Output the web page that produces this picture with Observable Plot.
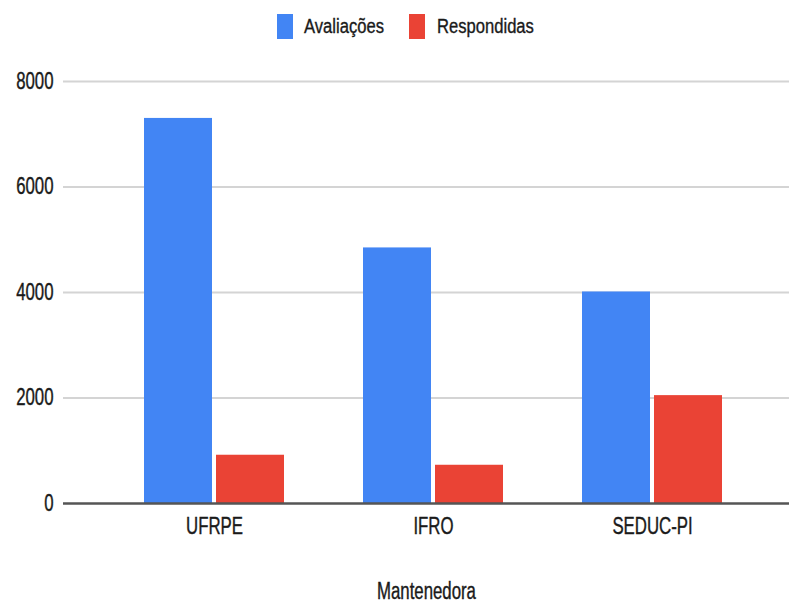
<!DOCTYPE html>
<html>
<head>
<meta charset="utf-8">
<script src="https://cdn.jsdelivr.net/npm/d3@7"></script>
<script src="https://cdn.jsdelivr.net/npm/@observablehq/plot@0.6"></script>
<style>
  html, body { margin: 0; padding: 0; background: #fff; }
  #legend { position: relative; width: 789px; height: 50px; font-family: "Liberation Sans", Arial, sans-serif; }
  #legend .sw { position: absolute; top: 14px; width: 16px; height: 25px; }
  #legend .lb { position: absolute; top: 14px; height: 25px; line-height: 25px; font-size: 20px; color: #1a1a1a;
                -webkit-text-stroke: 0.35px #1a1a1a;
                transform: scaleX(0.83); transform-origin: left center; white-space: nowrap; }
  #chart svg text { stroke: #1a1a1a; stroke-width: 0.4px; }
</style>
</head>
<body>
<div id="legend"></div>
<div id="chart"></div>
<script>
const categories = ["UFRPE", "IFRO", "SEDUC-PI"];
const seriesNames = ["Avaliações", "Respondidas"];
const avaliacoes = [7300, 4845, 4010];
const respondidas = [915, 725, 2045];
const yTicks = [0, 2000, 4000, 6000, 8000];
const colors = ["#4285F4", "#EA4335"];
const xTitle = "Mantenedora";

// legend
const legend = document.getElementById("legend");
const legendPos = [[277, 304], [409, 437]];
seriesNames.forEach((name, i) => {
  const sw = document.createElement("div");
  sw.className = "sw";
  sw.style.left = legendPos[i][0] + "px";
  sw.style.background = colors[i];
  legend.appendChild(sw);
  const lb = document.createElement("div");
  lb.className = "lb";
  lb.style.left = legendPos[i][1] + "px";
  lb.textContent = name;
  legend.appendChild(lb);
});

const dataA = categories.map((c, i) => ({cat: c, value: avaliacoes[i]}));
const dataR = categories.map((c, i) => ({cat: c, value: respondidas[i]}));

const chart = Plot.plot({
  width: 789,
  height: 553,
  marginTop: 31,
  marginBottom: 100,
  marginLeft: 63,
  marginRight: 0,
  style: {fontFamily: "Liberation Sans, Arial, sans-serif", fontSize: "23px", color: "#1a1a1a", background: "#fff"},
  x: {domain: categories, paddingInner: 0.36, paddingOuter: 0.33, align: 0.55},
  y: {domain: [0, 8000]},
  marks: [
    Plot.ruleY(yTicks.filter(d => d > 0), {stroke: "#d4d4d4", strokeWidth: 2}),
    Plot.barY(dataA, {x: "cat", y: "value", fill: colors[0], insetRight: 72}),
    Plot.barY(dataR, {x: "cat", y: "value", fill: colors[1], insetLeft: 72}),
    Plot.ruleY([0], {stroke: "#555", strokeWidth: 2.5}),
    Plot.axisY({ticks: yTicks, tickSize: 0, tickPadding: 10, tickFormat: d => String(d), label: null, fill: "#1a1a1a"}),
    Plot.axisX({tickSize: 0, tickPadding: 14, label: xTitle, labelAnchor: "center", labelOffset: 95, fill: "#1a1a1a"})
  ]
});
document.getElementById("chart").appendChild(chart);

// horizontal condensation of text to match reference glyph proportions
chart.querySelectorAll("text").forEach(t => {
  const x = parseFloat(t.getAttribute("x") || "0");
  const tr = t.getAttribute("transform") || "";
  t.setAttribute("transform", `${tr} translate(${x},0) scale(0.73,1) translate(${-x},0)`.trim());
});
</script>
</body>
</html>
